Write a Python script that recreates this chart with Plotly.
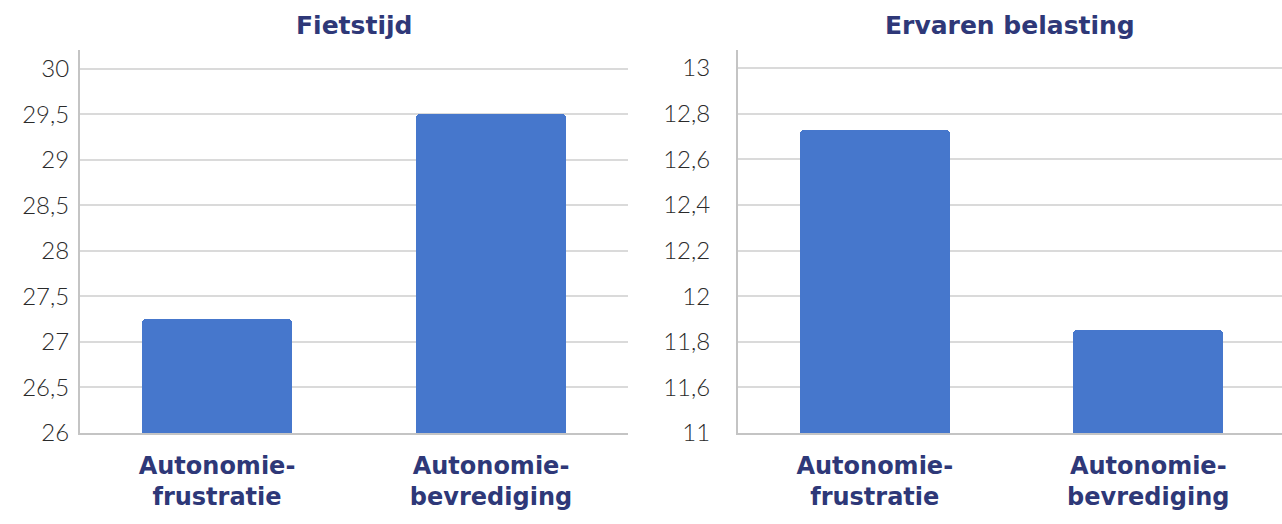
import plotly.graph_objects as go

# Groups shown on both panels
categories = ["Autonomie-<br>frustratie", "Autonomie-<br>bevrediging"]

# Panel 1: cycling time
fietstijd = [27.25, 29.5]
fiets_ticks = [26, 26.5, 27, 27.5, 28, 28.5, 29, 29.5, 30]
fiets_labels = ["26", "26,5", "27", "27,5", "28", "28,5", "29", "29,5", "30"]

# Panel 2: perceived load (axis broken below 11,6; bottom tick reads 11)
belasting = [12.73, 11.85]
belast_ticks = [11.4, 11.6, 11.8, 12.0, 12.2, 12.4, 12.6, 12.8, 13.0]
belast_labels = ["11", "11,6", "11,8", "12", "12,2", "12,4", "12,6", "12,8", "13"]

titles = ["Fietstijd", "Ervaren belasting"]

BAR = "#4677cc"
NAVY = "#2e3878"
GRID = "#dadada"
AXIS = "#c4c4c4"
W, H = 1282, 524
TOP, BOTTOM = 50, 91
PLOT_H = H - TOP - BOTTOM

fig = go.Figure()
fig.add_trace(go.Bar(x=categories, y=fietstijd, xaxis="x", yaxis="y",
                     marker=dict(color=BAR, cornerradius=4, line=dict(width=0)),
                     width=0.55, showlegend=False))
fig.add_trace(go.Bar(x=categories, y=belasting, xaxis="x2", yaxis="y2",
                     marker=dict(color=BAR, cornerradius=4, line=dict(width=0)),
                     width=0.55, showlegend=False))

xfont = dict(family="'DejaVu Sans', sans-serif", size=24, color=NAVY, weight="bold")
yfont = dict(family="Lato, 'Open Sans', sans-serif", size=24, color="#2a2a2a", weight=300)

common_x = dict(type="category", showgrid=False, showline=True, linecolor=AXIS,
                linewidth=2, ticks="", tickfont=xfont, fixedrange=True)
common_y = dict(showgrid=True, gridcolor=GRID, gridwidth=2, showline=True,
                linecolor=AXIS, linewidth=2, ticks="", tickfont=yfont,
                zeroline=False, fixedrange=True)

fig.update_layout(
    width=W, height=H,
    margin=dict(l=0, r=0, t=TOP, b=BOTTOM),
    plot_bgcolor="white", paper_bgcolor="white",
    bargap=0,
    xaxis=dict(domain=[80 / W, 628 / W], range=[-0.5, 1.5], anchor="y",
               ticklabelstandoff=10, **common_x),
    yaxis=dict(domain=[0, 1], range=[26, 30.208], anchor="x",
               tickvals=fiets_ticks, ticktext=fiets_labels,
               ticklabelstandoff=4, **common_y),
    xaxis2=dict(domain=[738 / W, 1.0], range=[-0.5, 1.489], anchor="y2",
                ticklabelstandoff=10, **common_x),
    yaxis2=dict(domain=[0, 1], range=[11.4, 13.079], anchor="x2",
                tickvals=belast_ticks, ticktext=belast_labels,
                ticklabelstandoff=21, **common_y),
)

tfont = dict(family="'DejaVu Sans', sans-serif", size=25, color=NAVY, weight="bold")
for title, cx in zip(titles, [354, 1010]):
    fig.add_annotation(text=title, x=cx / W, y=1 + 25 / PLOT_H, xref="paper", yref="paper",
                       xanchor="center", yanchor="middle", showarrow=False, font=tfont)

fig.write_html("out.html")
